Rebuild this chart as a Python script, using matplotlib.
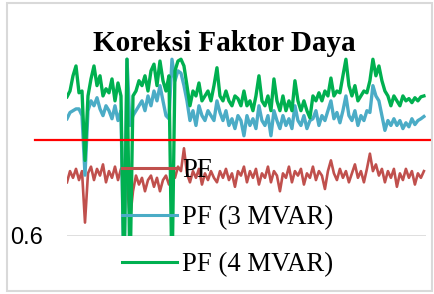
import numpy as np
import matplotlib
matplotlib.use("Agg")
import matplotlib.pyplot as plt
from matplotlib.patches import Rectangle

title = "Koreksi Faktor Daya"
labels = ["PF", "PF (3 MVAR)", "PF (4 MVAR)"]
target = 0.815

pf = [0.72, 0.745, 0.73, 0.75, 0.725, 0.745, 0.63, 0.74, 0.755, 0.725, 0.75, 0.735, 0.76, 0.72, 0.745,
      0.73, 0.755, 0.725, 0.75, 0.74, 0.72, 0.636, 0.70, 0.735, 0.715, 0.73, 0.70, 0.725, 0.735, 0.71,
      0.73, 0.70, 0.725, 0.735, 0.715, 0.74, 0.73, 0.755, 0.745, 0.796, 0.74, 0.72, 0.745, 0.73, 0.75,
      0.715, 0.74, 0.725, 0.745, 0.73, 0.72, 0.745, 0.73, 0.75, 0.725, 0.74, 0.71, 0.745, 0.735, 0.755,
      0.72, 0.745, 0.73, 0.75, 0.715, 0.74, 0.73, 0.755, 0.72, 0.745, 0.735, 0.70, 0.74, 0.73, 0.755,
      0.72, 0.745, 0.735, 0.75, 0.715, 0.74, 0.73, 0.755, 0.725, 0.745, 0.735, 0.705, 0.745, 0.769, 0.74,
      0.725, 0.75, 0.73, 0.745, 0.72, 0.74, 0.76, 0.73, 0.745, 0.72, 0.75, 0.784, 0.745, 0.76, 0.735,
      0.75, 0.72, 0.745, 0.73, 0.75, 0.71, 0.74, 0.725, 0.75, 0.73, 0.745, 0.715, 0.74, 0.73, 0.745]

pf_3mvar = [0.862, 0.876, 0.880, 0.884, 0.884, 0.869, 0.736, 0.880, 0.902, 0.891, 0.909, 0.884, 0.869, 0.891, 0.880,
            0.862, 0.891, 0.858, 0.880, 0.50, 0.995, 0.847, 0.869, 0.880, 0.891, 0.902, 0.880, 0.913, 0.891, 0.924,
            0.902, 0.936, 0.902, 0.869, 0.862, 0.995, 0.947, 0.969, 0.964, 0.936, 0.902, 0.858, 0.880, 0.847, 0.891,
            0.869, 0.858, 0.880, 0.869, 0.858, 0.902, 0.876, 0.858, 0.880, 0.847, 0.862, 0.840, 0.869, 0.858, 0.824,
            0.869, 0.847, 0.862, 0.840, 0.891, 0.858, 0.847, 0.869, 0.824, 0.880, 0.858, 0.840, 0.869, 0.847, 0.862,
            0.840, 0.891, 0.858, 0.847, 0.869, 0.840, 0.858, 0.862, 0.880, 0.847, 0.869, 0.858, 0.880, 0.902, 0.862,
            0.876, 0.853, 0.880, 0.913, 0.869, 0.858, 0.880, 0.847, 0.869, 0.858, 0.880, 0.876, 0.936, 0.913, 0.902,
            0.869, 0.836, 0.858, 0.847, 0.862, 0.847, 0.858, 0.840, 0.853, 0.844, 0.862, 0.849, 0.858, 0.862, 0.867]

pf_4mvar = [0.911, 0.924, 0.958, 0.980, 0.920, 0.924, 0.769, 0.913, 0.951, 0.980, 0.936, 0.958, 0.913, 0.929, 0.920,
            0.951, 0.902, 0.942, 0.913, 0.50, 0.995, 0.50, 0.913, 0.924, 0.947, 0.936, 0.958, 0.924, 0.969, 0.984,
            0.936, 0.991, 0.947, 0.924, 0.958, 0.50, 0.969, 0.991, 0.995, 0.980, 0.936, 0.891, 0.924, 0.913, 0.942,
            0.902, 0.913, 0.924, 0.902, 0.936, 0.976, 0.913, 0.902, 0.924, 0.902, 0.891, 0.913, 0.907, 0.891, 0.924,
            0.891, 0.902, 0.880, 0.913, 0.958, 0.902, 0.891, 0.913, 0.880, 0.951, 0.902, 0.880, 0.913, 0.880, 0.902,
            0.880, 0.947, 0.902, 0.880, 0.902, 0.880, 0.864, 0.913, 0.902, 0.920, 0.902, 0.924, 0.913, 0.953, 0.913,
            0.924, 0.920, 0.958, 0.995, 0.936, 0.913, 0.936, 0.902, 0.913, 0.924, 0.920, 0.947, 0.995, 0.958, 0.980,
            0.947, 0.924, 0.913, 0.891, 0.913, 0.902, 0.891, 0.913, 0.902, 0.907, 0.898, 0.909, 0.902, 0.911, 0.913]

W, H = 435, 294
fig = plt.figure(figsize=(W / 100, H / 100), dpi=100)
fig.patch.set_facecolor("white")

# outer chart border
fig.patches.append(Rectangle((7 / W, 3 / H), 425 / W, 288 / H, transform=fig.transFigure,
                             fill=False, edgecolor="#D9D9D9", linewidth=1.5))

ax = fig.add_axes([67 / W, 1 - 236 / H, 359 / W, 179 / H])
for s in ax.spines.values():
    s.set_visible(False)

l1, = ax.plot(np.arange(len(pf)), pf, color="#C0504D", lw=1.9, label=labels[0], zorder=3)
l2, = ax.plot(np.arange(len(pf_3mvar)), pf_3mvar, color="#4BACC6", lw=2.4, label=labels[1], zorder=4)
l3, = ax.plot(np.arange(len(pf_4mvar)), pf_4mvar, color="#00B050", lw=2.4, label=labels[2], zorder=5)

ax.axhline(target, xmin=-0.089, xmax=1.011, color="#FF0000", lw=1.6, clip_on=False, zorder=6)

ax.set_ylim(0.6, 1.0)
ax.set_xlim(0, 119.7)
ax.set_xticks([])
ax.set_yticks([0.6])
ax.set_yticklabels(["0.6"], fontfamily="Liberation Sans", fontsize=17)
ax.tick_params(axis="y", length=0, pad=17)
ax.grid(axis="y", color="#D9D9D9", lw=1.2)
ax.set_axisbelow(True)

fig.text(224 / W, 1 - 43 / H, title, ha="center", va="center",
         fontfamily="Liberation Serif", fontweight="bold", fontsize=21)

leg = fig.legend(handles=[l1, l2, l3], loc="upper left", bbox_to_anchor=(122 / W, 1 - 158 / H),
                 frameon=False, prop={"family": "Liberation Serif", "size": 19.3},
                 handlelength=2.05, handletextpad=0.2, labelspacing=0.83,
                 borderpad=0, borderaxespad=0)
for h in leg.legend_handles:
    h.set_linewidth(2.2)

fig.savefig("out.png", dpi=100)
